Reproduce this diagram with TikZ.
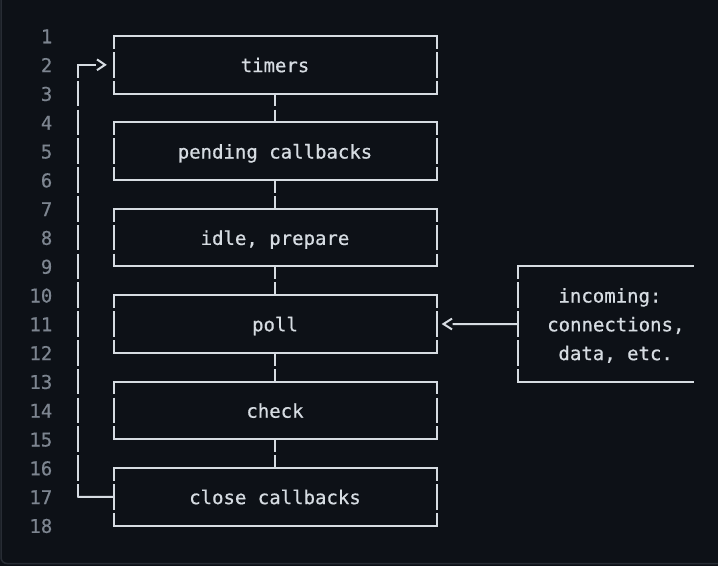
\documentclass[tikz,border=0pt]{standalone}
\usepackage{fontspec}
\newfontfamily\codef[FakeBold=0.6]{DejaVu Sans Mono}
\usetikzlibrary{calc}
\definecolor{bg}{HTML}{0D1117}
\definecolor{fg}{HTML}{D6DCE2}
\definecolor{lnc}{HTML}{7D8590}
\definecolor{framec}{HTML}{272C34}
\begin{document}
\begin{tikzpicture}[x=1pt,y=-1pt,
  hl/.style={draw=fg, line width=2pt, line cap=rect},
  vl/.style={draw=fg, line width=2pt, dash pattern=on 25.6pt off 3.2pt, dash phase=12.8pt},
  chev/.style={draw=fg, line width=2pt, line join=miter},
  codefont/.style={font=\codef\fontsize{19}{28.8}\selectfont},
  stage/.style={codefont, minimum width=323pt, minimum height=57.6pt, inner sep=0pt, outer sep=0pt, text=fg, text height=14.6pt, text depth=0pt},
  lnum/.style={codefont, anchor=base east, text=lnc, inner sep=0pt},
  txt/.style={codefont, anchor=base west, text=fg, inner sep=0pt},
  area/.style={minimum width=175.5pt, minimum height=115.2pt, inner sep=0pt, outer sep=0pt}]
\fill[bg] (0,0) rectangle (718,566);
\useasboundingbox (0,0) rectangle (718,566);
\draw[framec, line width=1.5pt, rounded corners=6pt] (1,-20) rectangle (740,563.5);
% line numbers
\foreach \i in {1,...,18}
  \node[lnum] (ln\i) at (52.5, {43.3+28.8*(\i-1)}) {\i};
% stages
\foreach \n/\t [count=\k from 0] in {timers/timers, pending/pending callbacks, idle/{idle, prepare}, poll/poll, check/check, close/close callbacks} {
  \node[stage] (\n) at (275, {64.8+86.4*\k}) {\t};
  \draw[hl] (\n.north west) -- (\n.north east);
  \draw[hl] (\n.south west) -- (\n.south east);
  \draw[vl] (\n.north west) -- (\n.south west);
  \draw[vl] (\n.north east) -- (\n.south east);
}
% connectors between stages
\draw[vl] (timers.south) -- (pending.north);
\draw[vl] (pending.south) -- (idle.north);
\draw[vl] (idle.south) -- (poll.north);
\draw[vl] (poll.south) -- (check.north);
\draw[vl] (check.south) -- (close.north);
% loop back
\coordinate (lt) at (78.3,64.8);
\coordinate (lb) at (78.3,496.8);
\coordinate (tarr) at ($(timers.west)+(-8.5,0)$);
\draw[vl] (lt) -- (lb);
\draw[hl] (lb) -- (close.west);
\draw[hl] (lt) -- ($(tarr)+(-10,0)$);
\draw[chev] ($(tarr)+(-8,-5.4)$) -- (tarr) -- ($(tarr)+(-8,5.4)$);
% incoming box
\node[area] (inc) at (605.25,324) {};
\draw[hl] (inc.north west) -- (inc.north east);
\draw[hl] (inc.south west) -- (inc.south east);
\draw[vl] (inc.north west) -- (inc.south west);
\node[txt] (inc1) at (558.3,302.5) {incoming:};
\node[txt] (inc2) at (547,331.3) {connections,};
\node[txt] (inc3) at (558.3,360.1) {data, etc.};
% arrow into poll
\coordinate (parr) at ($(poll.east)+(7,0)$);
\draw[hl] (inc.west) -- ($(parr)+(10,0)$);
\draw[chev] ($(parr)+(8.5,-5.4)$) -- (parr) -- ($(parr)+(8.5,5.4)$);
\end{tikzpicture}
\end{document}
